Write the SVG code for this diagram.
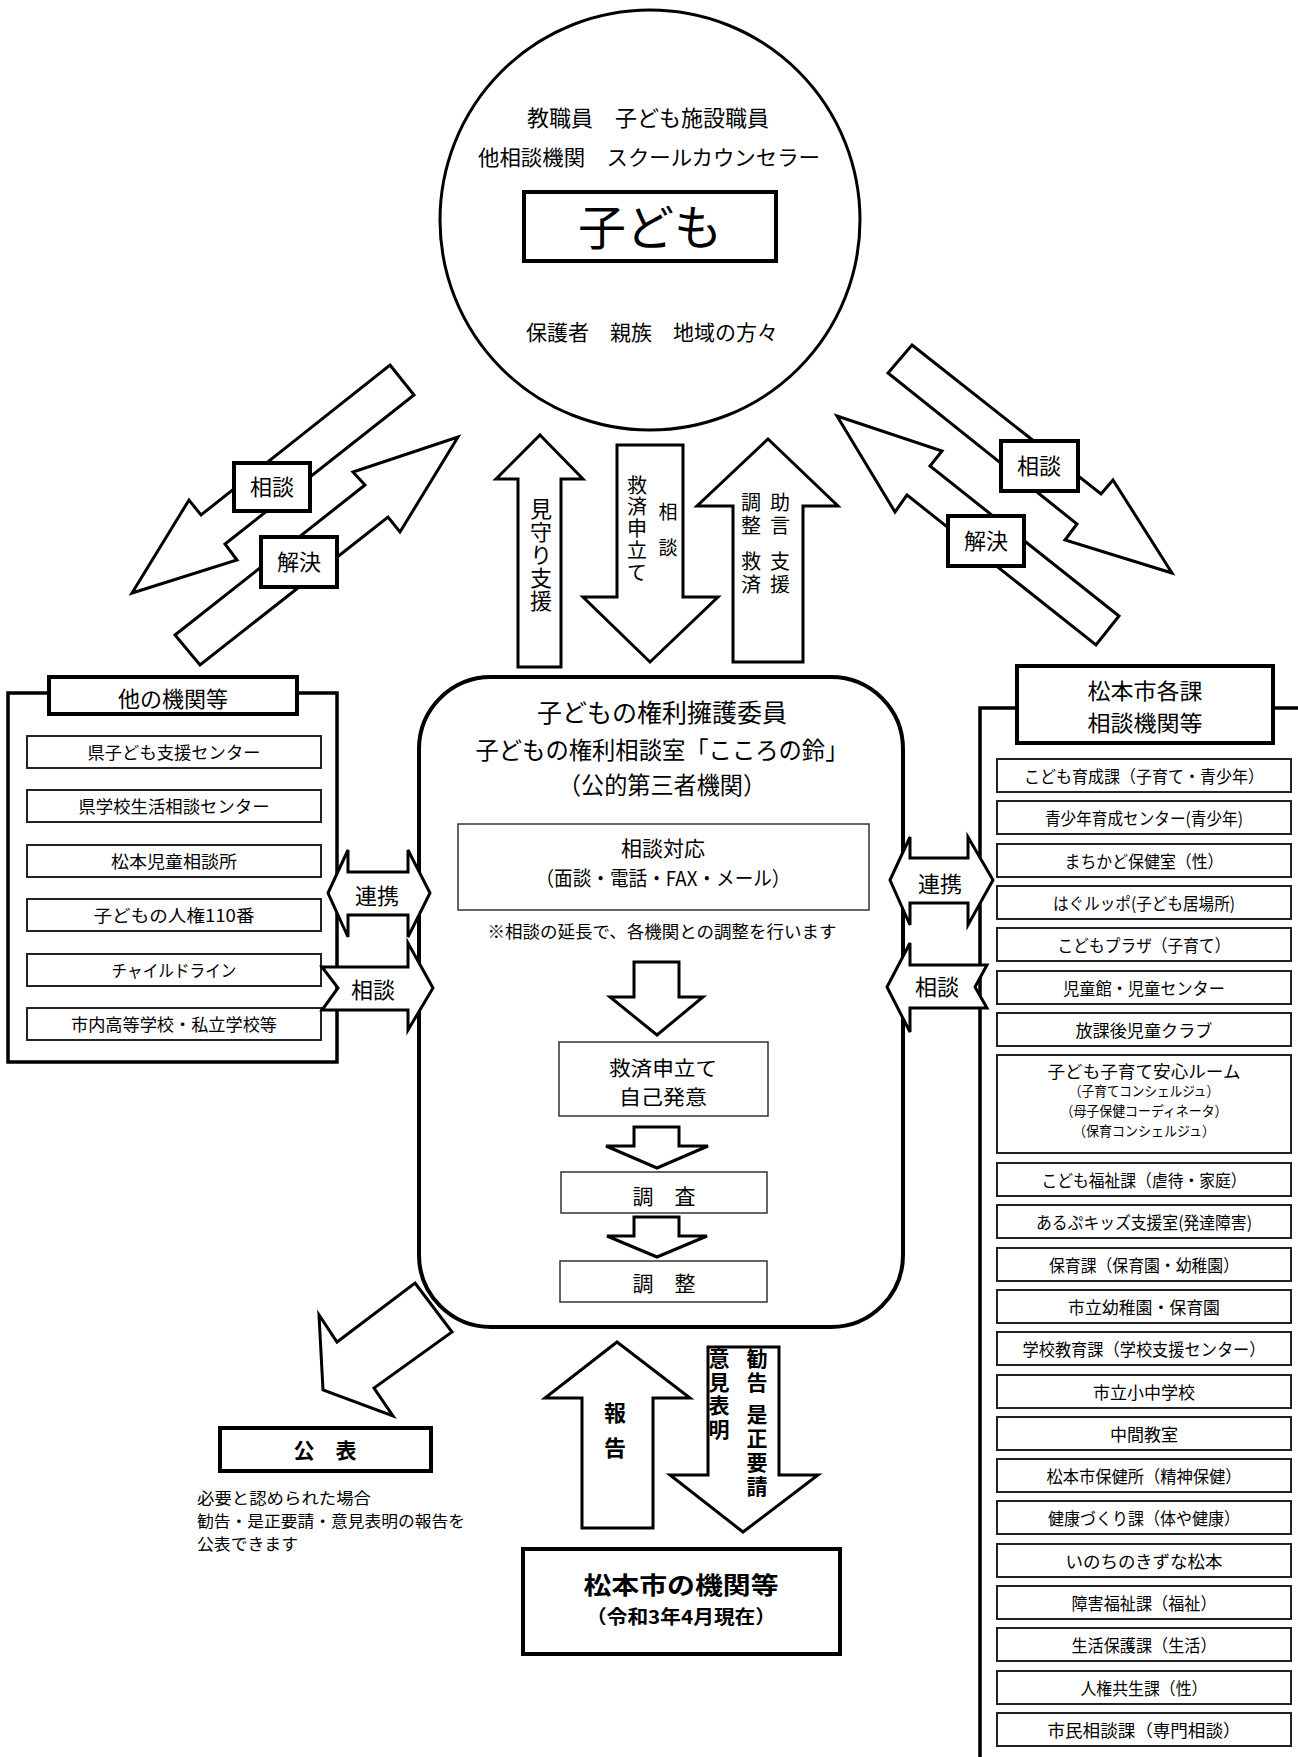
<svg xmlns="http://www.w3.org/2000/svg" width="1298" height="1757" viewBox="0 0 1298 1757">
<style>
.bg{fill:#fff}
.sh{fill:#fff;stroke:#000;stroke-width:3;stroke-linejoin:miter}
.thick{fill:#fff;stroke:#000;stroke-width:4}
.item{fill:#fff;stroke:#222;stroke-width:2}
.thin{fill:#fff;stroke:#333;stroke-width:1.5}
.line{fill:none;stroke:#000;stroke-width:3.5}
text{font-family:"Noto Sans CJK JP","Noto Sans",sans-serif;fill:#000;dominant-baseline:central;text-anchor:middle}
.v{writing-mode:vertical-rl;text-anchor:start}
.b{font-weight:bold}
.l{text-anchor:start}
</style>
<rect class="bg" x="0" y="0" width="1298" height="1757"/>

<g id="connectors">
  <polygon class="sh" points="390,365 414,395 225,544 237,560 132,593 189,500 201,515"/>
  <polygon class="sh" points="175,635 365,485 353,472 458,437 400,532 388,517 200,665"/>
  <polygon class="sh" points="912,345 1101,494 1113,480 1172,573 1065,540 1077,524 888,373"/>
  <polygon class="sh" points="837,416 942,451 930,466 1119,616 1096,645 907,495 895,512"/>
  <polygon class="sh" points="540,435 583,479 561,479 561,667 518,667 518,479 496,479"/>
  <polygon class="sh" points="617,445 683,445 683,597 718,597 650,662 583,597 617,597"/>
  <polygon class="sh" points="768,439 838,506 803,506 803,662 733,662 733,506 697,506"/>
  <polygon class="sh" points="617,1342 690,1398 653,1398 653,1528 582,1528 582,1398 545,1398"/>
  <polygon class="sh" points="708,1347 779,1347 779,1475 818,1475 743,1532 670,1475 708,1475"/>
  <polygon class="sh" points="415,1283 452,1332 374,1388 393,1416 323,1390 319,1315 337,1342"/>
</g>

<g id="child">
  <circle class="sh" cx="650" cy="220" r="210"/>
  <text x="648" y="116" font-size="22">教職員　子ども施設職員</text>
  <text x="649" y="156" font-size="21" textLength="342" lengthAdjust="spacingAndGlyphs">他相談機関　スクールカウンセラー</text>
  <rect class="thick" x="524" y="192" width="252" height="69"/>
  <text x="650" y="224" font-size="48">子ども</text>
  <text x="652" y="331" font-size="21">保護者　親族　地域の方々</text>
</g>

<g id="center">
  <rect x="419" y="677" width="484" height="650" rx="72" ry="72" style="fill:#fff;stroke:#000;stroke-width:4"/>
  <text font-size="24"><tspan x="662" y="711" font-size="25">子どもの権利擁護委員</tspan><tspan x="662" y="748" textLength="373" lengthAdjust="spacingAndGlyphs">子どもの権利相談室「こころの鈴」</tspan><tspan x="662" y="783" textLength="208" lengthAdjust="spacingAndGlyphs">（公的第三者機関）</tspan></text>
  <rect class="thin" x="458" y="824" width="411" height="86"/>
  <text font-size="20"><tspan x="663" y="847" font-size="21">相談対応</tspan><tspan x="663" y="877" textLength="255" lengthAdjust="spacingAndGlyphs">（面談・電話・FAX・メール）</tspan></text>
  <text x="662" y="930" font-size="17" textLength="349" lengthAdjust="spacingAndGlyphs">※相談の延長で、各機関との調整を行います</text>
  <polygon class="sh" points="634,962 679,962 679,997 703,997 657,1035 610,997 634,997"/>
  <rect class="thin" x="559" y="1042" width="209" height="74"/>
  <text font-size="20"><tspan x="663" y="1067" textLength="108" lengthAdjust="spacingAndGlyphs">救済申立て</tspan><tspan x="663" y="1096" textLength="88" lengthAdjust="spacingAndGlyphs">自己発意</tspan></text>
  <polygon class="sh" points="634,1127 679,1127 679,1146 708,1146 657,1168 606,1146 634,1146"/>
  <rect class="thin" x="561" y="1172" width="206" height="41"/>
  <text x="664" y="1195" font-size="21">調　査</text>
  <polygon class="sh" points="634,1217 679,1217 679,1236 707,1236 657,1257 607,1236 634,1236"/>
  <rect class="thin" x="560" y="1261" width="207" height="41"/>
  <text x="664" y="1282" font-size="21">調　整</text>
</g>

<g id="other-orgs">
  <rect class="line" x="8" y="693" width="329" height="369"/>
  <rect class="thick" x="49" y="677" width="248" height="37"/>
  <text x="173" y="697" font-size="22">他の機関等</text>
  <g font-size="17">
  <rect class="item" x="27" y="736" width="294" height="32"/>
  <text x="174" y="751" textLength="173" lengthAdjust="spacingAndGlyphs">県子ども支援センター</text>
  <rect class="item" x="27" y="790" width="294" height="32"/>
  <text x="174" y="805" textLength="191" lengthAdjust="spacingAndGlyphs">県学校生活相談センター</text>
  <rect class="item" x="27" y="845" width="294" height="32"/>
  <text x="174" y="860" textLength="126" lengthAdjust="spacingAndGlyphs">松本児童相談所</text>
  <rect class="item" x="27" y="899" width="294" height="32"/>
  <text x="174" y="914" textLength="161" lengthAdjust="spacingAndGlyphs">子どもの人権110番</text>
  <rect class="item" x="27" y="954" width="294" height="32"/>
  <text x="174" y="969" textLength="125" lengthAdjust="spacingAndGlyphs">チャイルドライン</text>
  <rect class="item" x="27" y="1008" width="294" height="32"/>
  <text x="174" y="1023" textLength="206" lengthAdjust="spacingAndGlyphs">市内高等学校・私立学校等</text>
  </g>
</g>

<g id="city-depts">
  <path class="line" d="M1017,708 H980 V1757 M1273,708 H1298"/>
  <rect class="thick" x="1017" y="666" width="256" height="77"/>
  <text font-size="22"><tspan x="1145" y="689" textLength="115" lengthAdjust="spacingAndGlyphs">松本市各課</tspan><tspan x="1145" y="721" textLength="115" lengthAdjust="spacingAndGlyphs">相談機関等</tspan></text>
  <g font-size="17">
  <rect class="item" x="997" y="759" width="294" height="33"/>
  <text x="1144" y="775" textLength="240" lengthAdjust="spacingAndGlyphs">こども育成課（子育て・青少年）</text>
  <rect class="item" x="997" y="801" width="294" height="33"/>
  <text x="1144" y="817" textLength="198" lengthAdjust="spacingAndGlyphs">青少年育成センター(青少年)</text>
  <rect class="item" x="997" y="844" width="294" height="33"/>
  <text x="1144" y="860" textLength="159" lengthAdjust="spacingAndGlyphs">まちかど保健室（性）</text>
  <rect class="item" x="997" y="886" width="294" height="33"/>
  <text x="1144" y="902" textLength="182" lengthAdjust="spacingAndGlyphs">はぐルッポ(子ども居場所)</text>
  <rect class="item" x="997" y="928" width="294" height="33"/>
  <text x="1144" y="944" textLength="173" lengthAdjust="spacingAndGlyphs">こどもプラザ（子育て）</text>
  <rect class="item" x="997" y="971" width="294" height="33"/>
  <text x="1144" y="987" textLength="162" lengthAdjust="spacingAndGlyphs">児童館・児童センター</text>
  <rect class="item" x="997" y="1013" width="294" height="33"/>
  <text x="1144" y="1029" textLength="137" lengthAdjust="spacingAndGlyphs">放課後児童クラブ</text>
  <rect class="item" x="997" y="1055" width="294" height="98"/>
  <text><tspan x="1144" y="1070" textLength="193" lengthAdjust="spacingAndGlyphs">子ども子育て安心ルーム</tspan><tspan x="1144" y="1090" font-size="14" textLength="150" lengthAdjust="spacingAndGlyphs">（子育てコンシェルジュ）</tspan><tspan x="1144" y="1110" font-size="14" textLength="167" lengthAdjust="spacingAndGlyphs">（母子保健コーディネータ）</tspan><tspan x="1144" y="1130" font-size="14" textLength="142" lengthAdjust="spacingAndGlyphs">（保育コンシェルジュ）</tspan></text>
  <rect class="item" x="997" y="1163" width="294" height="33"/>
  <text x="1144" y="1179" textLength="205" lengthAdjust="spacingAndGlyphs">こども福祉課（虐待・家庭）</text>
  <rect class="item" x="997" y="1205" width="294" height="33"/>
  <text x="1144" y="1221" textLength="216" lengthAdjust="spacingAndGlyphs">あるぷキッズ支援室(発達障害)</text>
  <rect class="item" x="997" y="1248" width="294" height="33"/>
  <text x="1144" y="1264" textLength="190" lengthAdjust="spacingAndGlyphs">保育課（保育園・幼稚園）</text>
  <rect class="item" x="997" y="1290" width="294" height="33"/>
  <text x="1144" y="1306" textLength="152" lengthAdjust="spacingAndGlyphs">市立幼稚園・保育園</text>
  <rect class="item" x="997" y="1332" width="294" height="33"/>
  <text x="1144" y="1348" textLength="243" lengthAdjust="spacingAndGlyphs">学校教育課（学校支援センター）</text>
  <rect class="item" x="997" y="1375" width="294" height="33"/>
  <text x="1144" y="1391">市立小中学校</text>
  <rect class="item" x="997" y="1417" width="294" height="33"/>
  <text x="1144" y="1433">中間教室</text>
  <rect class="item" x="997" y="1459" width="294" height="33"/>
  <text x="1144" y="1475" textLength="195" lengthAdjust="spacingAndGlyphs">松本市保健所（精神保健）</text>
  <rect class="item" x="997" y="1501" width="294" height="33"/>
  <text x="1144" y="1517" textLength="192" lengthAdjust="spacingAndGlyphs">健康づくり課（体や健康）</text>
  <rect class="item" x="997" y="1544" width="294" height="33"/>
  <text x="1144" y="1560" textLength="157" lengthAdjust="spacingAndGlyphs">いのちのきずな松本</text>
  <rect class="item" x="997" y="1586" width="294" height="33"/>
  <text x="1144" y="1602" textLength="145" lengthAdjust="spacingAndGlyphs">障害福祉課（福祉）</text>
  <rect class="item" x="997" y="1628" width="294" height="33"/>
  <text x="1144" y="1644" textLength="145" lengthAdjust="spacingAndGlyphs">生活保護課（生活）</text>
  <rect class="item" x="997" y="1671" width="294" height="33"/>
  <text x="1144" y="1687" textLength="127" lengthAdjust="spacingAndGlyphs">人権共生課（性）</text>
  <rect class="item" x="997" y="1713" width="294" height="33"/>
  <text x="1144" y="1729" textLength="193" lengthAdjust="spacingAndGlyphs">市民相談課（専門相談）</text>
  </g>
</g>

<g id="side-arrows">
  <polygon class="sh" points="328,893 348,850 348,872 408,872 408,850 430,893 408,937 408,915 348,915 348,937"/>
  <text x="377" y="894" font-size="22">連携</text>
  <polygon class="sh" points="322,967 408,967 408,943 433,988 408,1030 408,1010 322,1010 338,988"/>
  <text x="373" y="988" font-size="22">相談</text>
  <polygon class="sh" points="890,880 910,837 910,858 968,858 968,837 993,880 968,925 968,903 910,903 910,925"/>
  <text x="940" y="882" font-size="22">連携</text>
  <polygon class="sh" points="887,987 910,943 910,965 987,965 975,987 987,1008 910,1008 910,1032"/>
  <text x="937" y="985" font-size="22">相談</text>
</g>

<g id="arrow-labels">
  <rect class="thick" x="234" y="463" width="76" height="48"/>
  <text x="272" y="485" font-size="22">相談</text>
  <rect class="thick" x="261" y="537" width="76" height="50"/>
  <text x="299" y="560" font-size="22">解決</text>
  <rect class="thick" x="1001" y="441" width="77" height="50"/>
  <text x="1039" y="464" font-size="22">相談</text>
  <rect class="thick" x="948" y="516" width="76" height="50"/>
  <text x="986" y="539" font-size="22">解決</text>
  <text class="v" x="541" y="498" font-size="22" letter-spacing="1">見守り支援</text>
  <text class="v" x="668" y="502" font-size="19" letter-spacing="-1">相　談</text>
  <text class="v" x="637" y="475" font-size="20" letter-spacing="1.8">救済申立て</text>
  <text class="v" x="780" font-size="20" letter-spacing="3"><tspan y="492">助言 </tspan><tspan y="552">支援</tspan></text>
  <text class="v" x="751" font-size="20" letter-spacing="3"><tspan y="492">調整 </tspan><tspan y="552">救済</tspan></text>
  <text class="v b" x="615" y="1402" font-size="22" letter-spacing="-4.5">報　告</text>
  <text class="v b" x="757" font-size="21" letter-spacing="3"><tspan y="1348">勧告 </tspan><tspan y="1403">是正要請</tspan></text>
  <text class="v b" x="719" y="1348" font-size="21" letter-spacing="2.5">意見表明</text>
</g>

<g id="publish">
  <rect class="thick" x="220" y="1428" width="211" height="43"/>
  <text class="b" x="325" y="1449" font-size="21">公　表</text>
  <text class="l" font-size="16"><tspan x="197" y="1497" textLength="174" lengthAdjust="spacingAndGlyphs">必要と認められた場合</tspan><tspan x="197" y="1520" textLength="268" lengthAdjust="spacingAndGlyphs">勧告・是正要請・意見表明の報告を</tspan><tspan x="197" y="1543" textLength="101" lengthAdjust="spacingAndGlyphs">公表できます</tspan></text>
</g>

<g id="city-orgs">
  <rect class="thick" x="523" y="1549" width="317" height="105"/>
  <text class="b"><tspan x="681" y="1583" font-size="24" textLength="195" lengthAdjust="spacingAndGlyphs">松本市の機関等</tspan><tspan x="681" y="1615" font-size="19" textLength="190" lengthAdjust="spacingAndGlyphs">（令和3年4月現在）</tspan></text>
</g>
</svg>
